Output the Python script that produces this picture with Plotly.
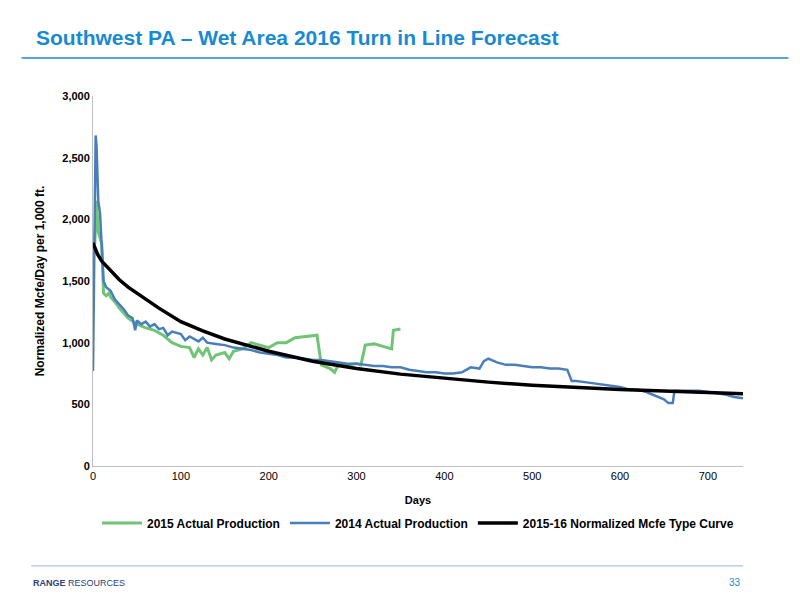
import plotly.graph_objects as go

days_2014 = [0, 1, 3, 4, 6, 8, 10, 12, 15, 20, 25, 30, 35, 40, 45, 48, 50, 55, 60, 65, 70, 75,
             80, 85, 90, 100, 105, 110, 120, 125, 130, 140, 150, 160, 170, 180, 190, 200, 210,
             220, 230, 240, 250, 260, 270, 280, 290, 300, 310, 320, 330, 340, 350, 360, 370,
             380, 390, 400, 410, 420, 430, 440, 445, 450, 460, 470, 480, 490, 500, 510, 520,
             530, 540, 545, 550, 560, 570, 580, 590, 600, 610, 620, 630, 640, 650, 655, 660,
             662, 670, 680, 690, 700, 710, 720, 730, 740]
prod_2014 = [770, 1600, 2680, 2600, 2150, 2050, 1750, 1500, 1450, 1420, 1350, 1310, 1270, 1220,
             1200, 1100, 1180, 1150, 1170, 1130, 1150, 1110, 1120, 1060, 1090, 1070, 1020, 1050,
             1010, 1040, 1000, 990, 980, 960, 950, 940, 920, 910, 900, 880, 880, 870, 860, 860,
             850, 840, 830, 830, 820, 810, 810, 800, 800, 780, 770, 760, 760, 750, 750, 760,
             800, 790, 850, 870, 840, 820, 820, 810, 800, 800, 790, 790, 780, 690, 690, 680,
             670, 660, 650, 640, 620, 620, 600, 570, 540, 510, 510, 610, 610, 610, 610, 600,
             590, 580, 560, 550]

days_2015 = [2, 4, 6, 8, 10, 12, 15, 18, 20, 25, 30, 40, 50, 60, 70, 80, 90, 100, 110, 115,
             120, 125, 130, 135, 140, 150, 155, 160, 170, 180, 190, 200, 210, 220, 230, 240,
             250, 255, 260, 270, 275, 280, 290, 300, 305, 310, 320, 330, 340, 342, 350]
prod_2015 = [1800, 2150, 1900, 1850, 1800, 1400, 1380, 1400, 1370, 1330, 1280, 1200, 1150, 1120,
             1100, 1060, 1000, 970, 960, 880, 950, 900, 960, 860, 900, 920, 870, 930, 950, 1000,
             980, 960, 1000, 1000, 1040, 1050, 1060, 1060, 820, 790, 760, 830, 820, 830, 820,
             980, 990, 970, 950, 1100, 1110]

days_curve = [0, 5, 10, 20, 30, 40, 50, 75, 100, 125, 150, 200, 250, 300, 350, 400, 450, 500,
              600, 700, 740]
type_curve = [1810, 1720, 1660, 1580, 1510, 1450, 1400, 1280, 1170, 1095, 1030, 930, 850, 790,
              745, 710, 680, 655, 620, 595, 585]

fig = go.Figure()
fig.add_trace(go.Scatter(x=days_2015, y=prod_2015, mode="lines", name="<b>2015 Actual Production</b>",
                         line=dict(color="#70c475", width=3)))
fig.add_trace(go.Scatter(x=days_2014, y=prod_2014, mode="lines", name="<b>2014 Actual Production</b>",
                         line=dict(color="#4a7ebb", width=2.5)))
fig.add_trace(go.Scatter(x=days_curve, y=type_curve, mode="lines",
                         name="<b>2015-16 Normalized Mcfe Type Curve</b>",
                         line=dict(color="black", width=3.5)))

axis_font = dict(family="Arial", size=11, color="black")
fig.update_layout(
    width=800, height=600, margin=dict(l=93, r=57, t=96, b=134, autoexpand=False),
    plot_bgcolor="white", paper_bgcolor="white",
    font=dict(family="Arial", color="black"),
    title=dict(text="<b>Southwest PA – Wet Area 2016 Turn in Line Forecast</b>",
               x=0.045, xanchor="left", y=0.938, yanchor="middle",
               font=dict(size=21, color="#1a8ad0")),
    xaxis=dict(range=[0, 740], tickvals=[0, 100, 200, 300, 400, 500, 600, 700], showgrid=False,
               showline=True, linecolor="#bfbfbf", ticks="", tickfont=axis_font,
               title=dict(text="<b>Days</b>", font=dict(size=11))),
    yaxis=dict(range=[0, 3000], dtick=500, tickformat=",", showgrid=False, showline=True,
               linecolor="#bfbfbf", ticks="", tickfont=axis_font, zeroline=False,
               title=dict(text="<b>Normalized Mcfe/Day per 1,000 ft.</b>", font=dict(size=12))),
    legend=dict(orientation="h", x=0.5, xanchor="center", y=-0.154, yanchor="middle",
                font=dict(size=12), itemwidth=40),
    showlegend=True,
)
fig.update_xaxes(tickprefix="<b>", ticksuffix="</b>")
fig.update_yaxes(tickprefix="<b>", ticksuffix="</b>")

fig.add_shape(type="line", xref="paper", yref="paper", x0=-0.11, x1=1.07, y0=1.103, y1=1.103,
              line=dict(color="#1a8ad0", width=1.5))
fig.add_shape(type="line", xref="paper", yref="paper", x0=-0.095, x1=1.0, y0=-0.27, y1=-0.27,
              line=dict(color="#8fb8dc", width=1))
fig.add_annotation(text="<b>RANGE</b> RESOURCES", xref="paper", yref="paper", x=-0.095, y=-0.316,
                   xanchor="left", yanchor="middle", showarrow=False,
                   font=dict(size=9, color="#2a3f7a"))
fig.add_annotation(text="33", xref="paper", yref="paper", x=1.0, y=-0.316, xanchor="right",
                   yanchor="middle", showarrow=False, font=dict(size=10, color="#1a8ad0"))

fig.write_html("out.html", config={"displayModeBar": False},
               post_script="document.body.style.margin='0';")
